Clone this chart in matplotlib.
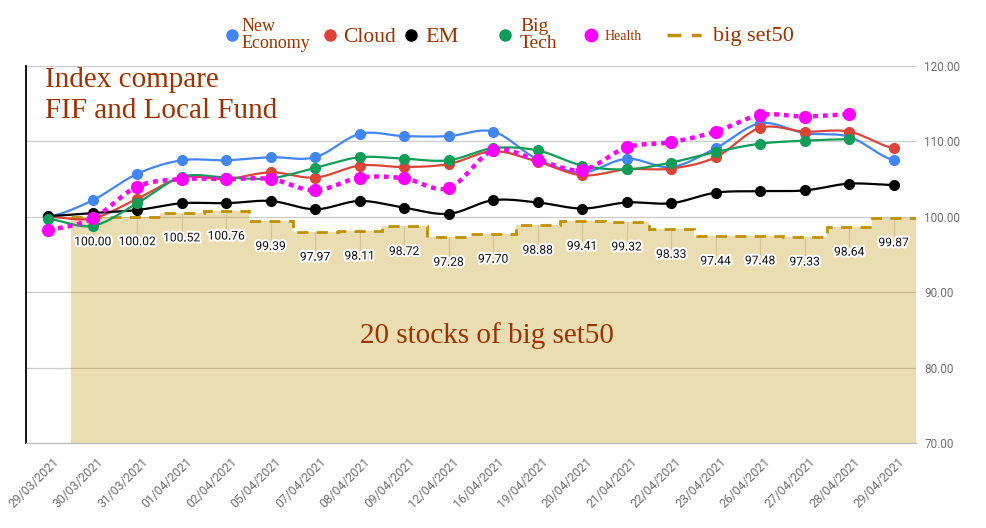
import numpy as np
import matplotlib
matplotlib.use('Agg')
import matplotlib.pyplot as plt
import matplotlib.patheffects as pe
import matplotlib.transforms as mtransforms
from matplotlib.lines import Line2D

# Data
DATES = ['29/03/2021', '30/03/2021', '31/03/2021', '01/04/2021', '02/04/2021',
         '05/04/2021', '07/04/2021', '08/04/2021', '09/04/2021', '12/04/2021',
         '16/04/2021', '19/04/2021', '20/04/2021', '21/04/2021', '22/04/2021',
         '23/04/2021', '26/04/2021', '27/04/2021', '28/04/2021', '29/04/2021']
NEW_ECONOMY = [100.0, 102.2, 105.7, 107.5, 107.5, 107.9, 107.9, 111.0, 110.7, 110.7,
               111.3, 107.6, 105.9, 107.7, 106.6, 109.1, 112.4, 111.1, 110.6, 107.5]
CLOUD = [100.0, 99.8, 102.4, 105.2, 105.0, 105.9, 105.2, 106.8, 106.6, 107.0,
         108.7, 107.3, 105.5, 106.3, 106.4, 107.9, 111.8, 111.3, 111.3, 109.1]
EM = [100.1, 100.5, 100.9, 101.8, 101.8, 102.1, 101.0, 102.1, 101.2, 100.4,
      102.2, 101.9, 101.1, 101.9, 101.8, 103.2, 103.4, 103.5, 104.4, 104.2]
BIG_TECH = [99.7, 98.8, 101.8, 105.3, 105.2, 105.1, 106.5, 107.9, 107.7, 107.5,
            109.1, 108.8, 106.8, 106.3, 107.2, 108.6, 109.7, 110.1, 110.3, None]
HEALTH = [98.3, 99.8, 104.0, 105.0, 105.0, 105.0, 103.5, 105.2, 105.1, 103.8,
          108.8, 107.5, 106.2, 109.2, 109.9, 111.3, 113.5, 113.3, 113.6, None]
BIG_SET50 = [None, 100.00, 100.02, 100.52, 100.76, 99.39, 97.97, 98.11, 98.72, 97.28,
             97.70, 98.88, 99.41, 99.32, 98.33, 97.44, 97.48, 97.33, 98.64, 99.87]

Y_TICKS = [70, 80, 90, 100, 110, 120]

# Style
BLUE = '#4285f4'
RED = '#db4437'
BLACK = '#000000'
GREEN = '#0f9d58'
MAGENTA = '#ff00ff'
GOLD = '#bf9000'
TEXT_RED = '#993300'
GRAY = '#707070'
SERIF = 'Liberation Serif'
SANS = 'Roboto'

W, H = 987, 528


def smooth(ys, n=24):
    """Catmull-Rom curve through the valid points of a series"""
    xs = [i for i, v in enumerate(ys) if v is not None]
    vals = [ys[i] for i in xs]
    out_x, out_y = [], []
    t = np.linspace(0, 1, n)
    h00 = 2 * t ** 3 - 3 * t ** 2 + 1
    h10 = t ** 3 - 2 * t ** 2 + t
    h01 = -2 * t ** 3 + 3 * t ** 2
    h11 = t ** 3 - t ** 2
    for k in range(len(vals) - 1):
        p0 = vals[k - 1] if k > 0 else vals[k]
        p1, p2 = vals[k], vals[k + 1]
        p3 = vals[k + 2] if k + 2 < len(vals) else vals[k + 1]
        m1 = (p2 - p0) / 2
        m2 = (p3 - p1) / 2
        out_x.extend(xs[k] + t)
        out_y.extend(h00 * p1 + h10 * m1 + h01 * p2 + h11 * m2)
    return np.array(out_x), np.array(out_y), xs, vals


fig = plt.figure(figsize=(W / 100, H / 100), dpi=100)
ax = fig.add_axes([26 / W, 1 - 443 / H, (916 - 26) / W, (443 - 66) / H])

x = np.arange(len(DATES))

# big set50 stepped area, each value fills its own category band
set_idx = [i for i, v in enumerate(BIG_SET50) if v is not None]
set_vals = [BIG_SET50[i] for i in set_idx]
edges = np.append(np.array(set_idx) - 0.5, set_idx[-1] + 0.5)
ax.stairs(set_vals, edges, baseline=70, fill=True, color=GOLD, alpha=0.3, lw=0, zorder=1)
ax.stairs(set_vals, edges, baseline=None, color=GOLD, lw=2, linestyle=(0, (4, 3)), zorder=2)
for i, v in zip(set_idx, set_vals):
    ax.vlines(i, v - 2.6, v, color='#d6c28e', lw=0.8, zorder=1.5)
    ax.annotate(f'{v:.2f}', (i, v), xytext=(0, -18), textcoords='offset points',
                ha='center', va='center', fontsize=8.7, family=SANS, color='#111111',
                path_effects=[pe.withStroke(linewidth=3, foreground='white')], zorder=8)

# line series
series = [
    (NEW_ECONOMY, BLUE, '-', 1.6, 7, 3),
    (CLOUD, RED, '-', 1.6, 7, 4),
    (EM, BLACK, '-', 1.6, 7, 5),
    (BIG_TECH, GREEN, '-', 1.6, 7, 6),
    (HEALTH, MAGENTA, (0, (1.1, 1.1)), 3.2, 8.5, 7),
]
for ys, color, ls, lw, ms, z in series:
    sx, sy, px, pv = smooth(ys)
    ax.plot(sx, sy, color=color, linestyle=ls, lw=lw, zorder=z, dash_capstyle='butt')
    ax.plot(px, pv, 'o', color=color, ms=ms, zorder=z)

# axes
ax.set_xlim(-0.5, len(DATES) - 0.5)
ax.set_ylim(70, 120)
ax.set_yticks(Y_TICKS)
ax.set_yticklabels([f'{v:.2f}' for v in Y_TICKS], family=SANS, fontsize=8.5, color=GRAY)
ax.yaxis.tick_right()
ax.tick_params(axis='y', length=0, pad=6)
ax.grid(axis='y', color='#cccccc', lw=0.9, zorder=0)
ax.set_axisbelow(True)
ax.set_xticks(x)
ax.set_xticklabels(DATES, rotation=45, ha='right', rotation_mode='anchor',
                   family=SANS, fontsize=8.8, color=GRAY)
ax.tick_params(axis='x', length=0, pad=9)
shift = mtransforms.ScaledTranslation(4 / 100, 0, fig.dpi_scale_trans)
for lbl in ax.get_xticklabels():
    lbl.set_transform(lbl.get_transform() + shift)
for side in ['top', 'right']:
    ax.spines[side].set_visible(False)
ax.spines['left'].set_color('black')
ax.spines['left'].set_linewidth(1.3)
ax.spines['bottom'].set_color('#bbbbbb')
ax.spines['bottom'].set_linewidth(0.9)

# texts inside the chart
fig.text(45 / W, 1 - 80 / H, 'Index compare', family=SERIF, fontsize=21,
         color=TEXT_RED, va='center', ha='left')
fig.text(45 / W, 1 - 111 / H, 'FIF and Local Fund', family=SERIF, fontsize=21,
         color=TEXT_RED, va='center', ha='left')
fig.text(487 / W, 1 - 336 / H, '20 stocks of big set50', family=SERIF, fontsize=21,
         color=TEXT_RED, va='center', ha='center')

# legend drawn by hand, like the reference
LEG_Y = 1 - 35 / H
legend_items = [
    (232, 242, 'New\nEconomy', BLUE, 13, 8),
    (330, 343, 'Cloud', RED, 15.5, 8),
    (411, 425, 'EM', BLACK, 16, 8),
    (505, 520, 'Big\nTech', GREEN, 14, 8),
    (591, 605, 'Health', MAGENTA, 10, 9),
]
for mx, tx, label, color, fs, ms in legend_items:
    fig.add_artist(Line2D([mx / W], [LEG_Y], marker='o', color=color, ms=ms,
                          transform=fig.transFigure, linestyle='none'))
    fig.text(tx / W, LEG_Y - (2 / H if '\n' not in label else 0), label, family=SERIF,
             fontsize=fs, color=TEXT_RED, va='center', ha='left', linespacing=0.95)
fig.add_artist(Line2D([667 / W, 701 / W], [LEG_Y, LEG_Y], color=GOLD, lw=2.5,
                      linestyle=(0, (4, 3)), transform=fig.transFigure))
fig.text(713 / W, LEG_Y - 2 / H, 'big set50', family=SERIF, fontsize=16,
         color=TEXT_RED, va='center', ha='left')

fig.savefig('out.png', dpi=100)
